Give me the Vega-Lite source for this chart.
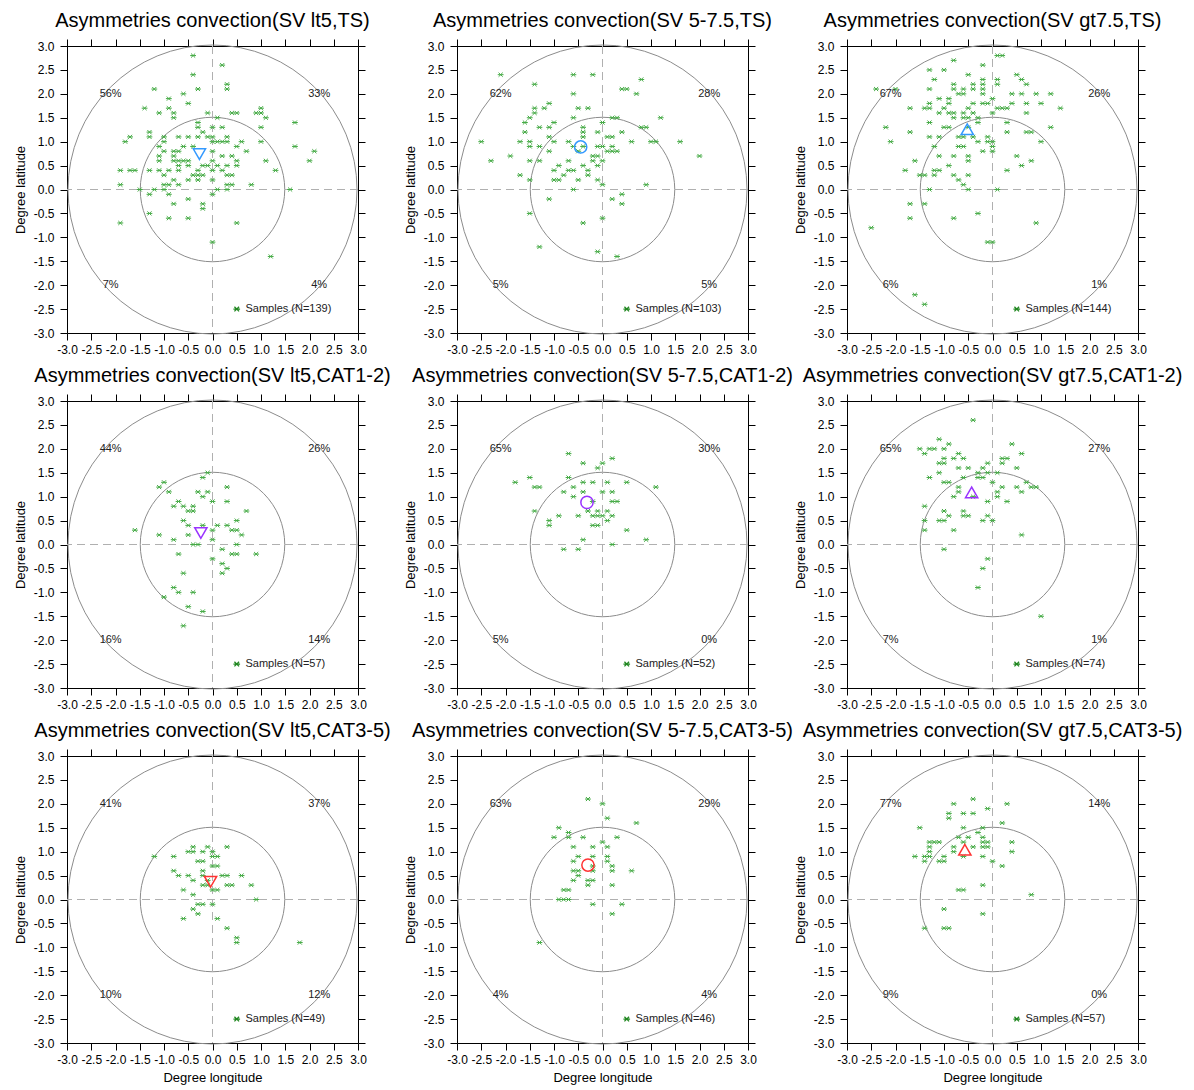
{
"$schema": "https://vega.github.io/schema/vega-lite/v6.json",
"background": "white",
"padding": {"left": 13, "top": 10, "right": 5, "bottom": 5},
"columns": 3,
"bounds": "flush",
"spacing": {"row": 68, "column": 99},
"datasets": {
"circ": [{"r": 3}, {"r": 1.5}],
"zero": [{"v": 0}],
"info": [
{"p":1,"mx":-0.27,"my":0.74,"leg":"Samples (N=139)"},
{"p":2,"mx":-0.45,"my":0.89,"leg":"Samples (N=103)"},
{"p":3,"mx":-0.52,"my":1.26,"leg":"Samples (N=144)"},
{"p":4,"mx":-0.24,"my":0.24,"leg":"Samples (N=57)"},
{"p":5,"mx":-0.32,"my":0.88,"leg":"Samples (N=52)"},
{"p":6,"mx":-0.43,"my":1.09,"leg":"Samples (N=74)"},
{"p":7,"mx":-0.04,"my":0.37,"leg":"Samples (N=49)"},
{"p":8,"mx":-0.3,"my":0.72,"leg":"Samples (N=46)"},
{"p":9,"mx":-0.57,"my":1.04,"leg":"Samples (N=57)"}
],
"pct": [
{"p":1,"x":-2.1,"y":2,"t":"56%"},{"p":1,"x":2.2,"y":2,"t":"33%"},{"p":1,"x":-2.1,"y":-2,"t":"7%"},{"p":1,"x":2.2,"y":-2,"t":"4%"},
{"p":2,"x":-2.1,"y":2,"t":"62%"},{"p":2,"x":2.2,"y":2,"t":"28%"},{"p":2,"x":-2.1,"y":-2,"t":"5%"},{"p":2,"x":2.2,"y":-2,"t":"5%"},
{"p":3,"x":-2.1,"y":2,"t":"67%"},{"p":3,"x":2.2,"y":2,"t":"26%"},{"p":3,"x":-2.1,"y":-2,"t":"6%"},{"p":3,"x":2.2,"y":-2,"t":"1%"},
{"p":4,"x":-2.1,"y":2,"t":"44%"},{"p":4,"x":2.2,"y":2,"t":"26%"},{"p":4,"x":-2.1,"y":-2,"t":"16%"},{"p":4,"x":2.2,"y":-2,"t":"14%"},
{"p":5,"x":-2.1,"y":2,"t":"65%"},{"p":5,"x":2.2,"y":2,"t":"30%"},{"p":5,"x":-2.1,"y":-2,"t":"5%"},{"p":5,"x":2.2,"y":-2,"t":"0%"},
{"p":6,"x":-2.1,"y":2,"t":"65%"},{"p":6,"x":2.2,"y":2,"t":"27%"},{"p":6,"x":-2.1,"y":-2,"t":"7%"},{"p":6,"x":2.2,"y":-2,"t":"1%"},
{"p":7,"x":-2.1,"y":2,"t":"41%"},{"p":7,"x":2.2,"y":2,"t":"37%"},{"p":7,"x":-2.1,"y":-2,"t":"10%"},{"p":7,"x":2.2,"y":-2,"t":"12%"},
{"p":8,"x":-2.1,"y":2,"t":"63%"},{"p":8,"x":2.2,"y":2,"t":"29%"},{"p":8,"x":-2.1,"y":-2,"t":"4%"},{"p":8,"x":2.2,"y":-2,"t":"4%"},
{"p":9,"x":-2.1,"y":2,"t":"77%"},{"p":9,"x":2.2,"y":2,"t":"14%"},{"p":9,"x":-2.1,"y":-2,"t":"9%"},{"p":9,"x":2.2,"y":-2,"t":"0%"}
],
"s1": [
{"x":-0.4,"y":2.8},{"x":0.2,"y":2.6},{"x":-0.4,"y":2.4},{"x":0.3,"y":2.2},{"x":0.3,"y":2.1},{"x":-1.2,"y":2.1},{"x":-0.3,"y":2.1},{"x":-0.6,"y":2.0},{"x":-0.9,"y":1.9},{"x":-0.5,"y":1.8},{"x":-1.4,"y":1.7},{"x":-0.9,"y":1.7},{"x":-1.1,"y":1.6},{"x":-0.8,"y":1.6},{"x":-0.8,"y":1.5},{"x":-0.1,"y":1.6},{"x":0.4,"y":1.6},{"x":0.5,"y":1.6},{"x":0.9,"y":1.6},{"x":1.0,"y":1.7},{"x":1.0,"y":1.6},{"x":1.1,"y":1.5},{"x":0.1,"y":1.5},
{"x":-0.3,"y":1.4},{"x":1.7,"y":1.4},{"x":1.0,"y":1.3},{"x":-0.3,"y":1.3},{"x":0,"y":1.3},{"x":0.2,"y":1.3},{"x":-1.3,"y":1.2},{"x":-0.2,"y":1.2},
{"x":-1.7,"y":1.1},{"x":-1.3,"y":1.1},{"x":-1.0,"y":1.1},{"x":-0.7,"y":1.1},{"x":-0.5,"y":1.1},{"x":-0.3,"y":1.1},{"x":-0.1,"y":1.1},{"x":0,"y":1.1},{"x":0.3,"y":1.1},
{"x":-1.8,"y":1.0},{"x":-1.0,"y":1.0},{"x":0,"y":1.0},{"x":0.1,"y":1.0},{"x":0.2,"y":1.0},{"x":0.3,"y":1.0},{"x":0.6,"y":1.0},{"x":1.0,"y":1.0},
{"x":-1.1,"y":0.9},{"x":-0.6,"y":0.9},{"x":-0.4,"y":0.9},{"x":0.5,"y":0.9},{"x":1.7,"y":0.9},
{"x":-1.0,"y":0.8},{"x":-0.8,"y":0.8},{"x":-0.7,"y":0.8},{"x":0,"y":0.8},{"x":0.7,"y":0.8},{"x":2.1,"y":0.8},
{"x":-1.1,"y":0.7},{"x":-0.8,"y":0.7},{"x":0.2,"y":0.7},{"x":0.4,"y":0.7},
{"x":-1.1,"y":0.6},{"x":-0.8,"y":0.6},{"x":-0.7,"y":0.6},{"x":-0.6,"y":0.6},{"x":-0.5,"y":0.6},{"x":0,"y":0.6},{"x":0.5,"y":0.6},{"x":1.1,"y":0.6},{"x":2.0,"y":0.6},
{"x":-0.7,"y":0.5},{"x":-0.5,"y":0.5},{"x":-0.2,"y":0.5},{"x":-0.1,"y":0.5},{"x":0.1,"y":0.5},{"x":0.3,"y":0.5},{"x":0.5,"y":0.5},
{"x":-1.9,"y":0.4},{"x":-1.7,"y":0.4},{"x":-1.6,"y":0.4},{"x":-1.3,"y":0.4},{"x":-1.1,"y":0.4},{"x":-0.9,"y":0.4},{"x":-0.7,"y":0.4},{"x":-0.3,"y":0.4},{"x":0,"y":0.4},{"x":0.2,"y":0.4},{"x":1.3,"y":0.4},
{"x":-1.0,"y":0.3},{"x":-0.4,"y":0.3},{"x":-0.3,"y":0.3},{"x":-0.2,"y":0.3},{"x":0.3,"y":0.3},{"x":0.4,"y":0.3},
{"x":-0.8,"y":0.2},{"x":-0.5,"y":0.2},{"x":-0.3,"y":0.2},{"x":0,"y":0.2},
{"x":-1.9,"y":0.1},{"x":-1.0,"y":0.1},{"x":-0.9,"y":0.1},{"x":-0.7,"y":0.1},{"x":0.3,"y":0.1},{"x":0.4,"y":0.1},{"x":0.8,"y":0.1},
{"x":-1.5,"y":0},{"x":-1.2,"y":0},{"x":-1.0,"y":0},{"x":0.1,"y":0},{"x":0.3,"y":0},{"x":1.6,"y":0},
{"x":-1.3,"y":-0.1},{"x":-0.9,"y":-0.1},{"x":0,"y":-0.1},
{"x":-0.5,"y":-0.2},{"x":-0.8,"y":-0.3},{"x":-0.2,"y":-0.3},{"x":-0.2,"y":-0.4},{"x":-1.3,"y":-0.5},{"x":-0.9,"y":-0.6},{"x":-0.5,"y":-0.6},{"x":-1.9,"y":-0.7},{"x":0.5,"y":-0.7},{"x":0,"y":-1.1},{"x":1.2,"y":-1.4}
],
"s2": [
{"x":-2.1,"y":2.4},{"x":-0.6,"y":2.4},{"x":-0.2,"y":2.4},{"x":0.8,"y":2.3},{"x":-1.4,"y":2.2},{"x":0.4,"y":2.1},{"x":0.5,"y":2.1},{"x":-0.6,"y":2.0},{"x":0.7,"y":2.0},{"x":-1.1,"y":1.8},{"x":-1.4,"y":1.7},{"x":-1.4,"y":1.6},{"x":-1.2,"y":1.7},{"x":-0.5,"y":1.7},{"x":-0.3,"y":1.7},{"x":-1.5,"y":1.5},{"x":-0.6,"y":1.5},{"x":0.2,"y":1.5},{"x":0.3,"y":1.5},{"x":1.2,"y":1.5},{"x":-1.6,"y":1.4},{"x":-1.0,"y":1.4},{"x":0,"y":1.4},{"x":-1.3,"y":1.3},{"x":-1.1,"y":1.3},{"x":-0.4,"y":1.3},{"x":0.8,"y":1.3},{"x":0.9,"y":1.3},{"x":-1.6,"y":1.2},{"x":-0.4,"y":1.2},{"x":-0.1,"y":1.2},{"x":0.4,"y":1.2},{"x":-1.1,"y":1.1},{"x":-0.4,"y":1.1},{"x":0.1,"y":1.1},{"x":0.2,"y":1.1},
{"x":-2.5,"y":1.0},{"x":-1.7,"y":1.0},{"x":-1.5,"y":1.0},{"x":-1.0,"y":1.0},{"x":-0.7,"y":1.0},{"x":0.6,"y":1.0},{"x":1.0,"y":1.0},{"x":1.1,"y":1.0},{"x":1.6,"y":1.0},{"x":-1.5,"y":0.9},{"x":-1.3,"y":0.9},{"x":-0.6,"y":0.9},{"x":-0.4,"y":0.9},{"x":-0.1,"y":0.9},{"x":0,"y":0.9},{"x":0.2,"y":0.9},{"x":-1.1,"y":0.8},{"x":-0.5,"y":0.8},{"x":0.1,"y":0.8},{"x":0.2,"y":0.8},{"x":0.3,"y":0.8},{"x":-1.9,"y":0.7},{"x":-0.2,"y":0.7},{"x":-0.1,"y":0.7},{"x":2.0,"y":0.7},
{"x":-2.3,"y":0.6},{"x":-1.5,"y":0.6},{"x":-1.3,"y":0.6},{"x":-0.7,"y":0.6},{"x":-0.2,"y":0.6},{"x":0,"y":0.6},{"x":-0.9,"y":0.5},{"x":-0.4,"y":0.5},{"x":-0.1,"y":0.5},{"x":-1.0,"y":0.4},{"x":-0.7,"y":0.4},{"x":-0.6,"y":0.4},{"x":-0.3,"y":0.4},{"x":-1.7,"y":0.3},{"x":-0.8,"y":0.3},{"x":-0.3,"y":0.3},{"x":-1.5,"y":0.2},{"x":-1.0,"y":0.2},{"x":-0.9,"y":0.2},{"x":-0.5,"y":0.2},{"x":-0.1,"y":0.2},{"x":0,"y":0.1},{"x":0.9,"y":0.1},{"x":-0.6,"y":0},
{"x":0.4,"y":-0.1},{"x":-1.1,"y":-0.2},{"x":0.2,"y":-0.2},{"x":0.4,"y":-0.3},{"x":-1.5,"y":-0.5},{"x":0,"y":-0.6},{"x":-0.4,"y":-0.7},{"x":-1.3,"y":-1.2},{"x":-0.1,"y":-1.3},{"x":0.3,"y":-1.4}
],
"s3": [
{"x":0.1,"y":2.8},{"x":0.2,"y":2.8},{"x":-0.8,"y":2.7},{"x":-0.2,"y":2.6},{"x":-1.3,"y":2.5},{"x":-1.0,"y":2.5},{"x":-0.5,"y":2.4},{"x":0.5,"y":2.4},{"x":-1.2,"y":2.3},{"x":-0.2,"y":2.3},{"x":0.1,"y":2.3},{"x":0.6,"y":2.3},
{"x":-0.8,"y":2.2},{"x":-0.4,"y":2.2},{"x":-0.2,"y":2.2},{"x":0.1,"y":2.2},{"x":0.7,"y":2.2},
{"x":-2.4,"y":2.1},{"x":-2.0,"y":2.1},{"x":-1.3,"y":2.1},{"x":-0.8,"y":2.1},{"x":-0.6,"y":2.1},{"x":-0.4,"y":2.1},{"x":-0.2,"y":2.1},
{"x":-0.7,"y":2.0},{"x":-0.6,"y":2.0},{"x":-0.2,"y":2.0},{"x":0.4,"y":2.0},{"x":0.6,"y":2.0},{"x":0.9,"y":2.0},{"x":1.2,"y":2.0},
{"x":-1.1,"y":1.9},{"x":-0.9,"y":1.9},{"x":0,"y":1.9},
{"x":-1.3,"y":1.8},{"x":-0.9,"y":1.8},{"x":-0.4,"y":1.8},{"x":-0.2,"y":1.8},{"x":-0.1,"y":1.8},{"x":0.4,"y":1.8},{"x":0.7,"y":1.8},{"x":1.0,"y":1.8},
{"x":-1.7,"y":1.7},{"x":-1.4,"y":1.7},{"x":-1.3,"y":1.7},{"x":-1.0,"y":1.7},{"x":-0.5,"y":1.7},{"x":0.1,"y":1.7},{"x":0.2,"y":1.7},{"x":0.3,"y":1.7},{"x":1.4,"y":1.7},
{"x":-1.1,"y":1.6},{"x":-0.9,"y":1.6},{"x":-0.8,"y":1.6},{"x":-0.6,"y":1.6},{"x":-0.4,"y":1.6},{"x":0,"y":1.6},{"x":0.7,"y":1.6},
{"x":-0.8,"y":1.5},{"x":-0.6,"y":1.5},{"x":-0.5,"y":1.5},{"x":-0.3,"y":1.5},
{"x":-1.3,"y":1.4},{"x":-0.3,"y":1.4},{"x":0.3,"y":1.4},
{"x":-2.2,"y":1.3},{"x":-1.0,"y":1.3},{"x":-0.9,"y":1.3},{"x":-0.5,"y":1.3},{"x":1.2,"y":1.3},
{"x":-1.7,"y":1.2},{"x":0.3,"y":1.2},{"x":0.7,"y":1.2},{"x":0.8,"y":1.2},
{"x":-1.3,"y":1.1},{"x":-1.1,"y":1.1},{"x":-0.7,"y":1.1},{"x":-0.6,"y":1.1},{"x":-0.4,"y":1.1},{"x":-0.1,"y":1.1},
{"x":-2.1,"y":1.0},{"x":-0.3,"y":1.0},{"x":-0.1,"y":1.0},{"x":0,"y":1.0},{"x":1.0,"y":1.0},
{"x":-1.2,"y":0.9},{"x":-0.7,"y":0.9},{"x":-0.6,"y":0.9},{"x":0,"y":0.9},
{"x":-0.2,"y":0.8},{"x":0,"y":0.8},
{"x":-1.1,"y":0.7},{"x":-0.8,"y":0.7},{"x":-0.5,"y":0.7},{"x":0.5,"y":0.7},
{"x":-1.6,"y":0.6},{"x":-0.5,"y":0.6},{"x":0.8,"y":0.6},
{"x":-0.9,"y":0.5},{"x":0.6,"y":0.5},
{"x":-1.8,"y":0.4},{"x":-1.2,"y":0.4},{"x":-1.1,"y":0.4},{"x":0.3,"y":0.4},
{"x":-1.5,"y":0.3},{"x":-1.4,"y":0.3},{"x":-1.2,"y":0.3},{"x":-0.8,"y":0.3},{"x":-0.5,"y":0.3},
{"x":-0.7,"y":0.2},{"x":-0.6,"y":0.1},
{"x":-1.3,"y":0},{"x":-0.5,"y":0},{"x":0.1,"y":0},
{"x":-1.7,"y":-0.3},{"x":-1.4,"y":-0.3},{"x":-0.3,"y":-0.5},{"x":-1.7,"y":-0.6},{"x":-0.8,"y":-0.6},{"x":0.9,"y":-0.7},{"x":-2.5,"y":-0.8},{"x":-0.1,"y":-1.1},{"x":0,"y":-1.1},{"x":-1.6,"y":-2.2},{"x":-1.4,"y":-2.4}
],
"s4": [
{"x":-0.1,"y":1.5},{"x":-0.2,"y":1.4},{"x":-1.0,"y":1.3},{"x":-1.1,"y":1.2},{"x":0.3,"y":1.2},{"x":-0.9,"y":1.1},{"x":-0.3,"y":1.1},{"x":-0.1,"y":1.1},{"x":-0.2,"y":1.0},
{"x":-0.7,"y":0.9},{"x":0,"y":0.9},{"x":0.3,"y":0.9},{"x":-0.8,"y":0.8},{"x":-0.6,"y":0.8},{"x":-0.4,"y":0.8},{"x":-0.5,"y":0.7},{"x":-0.4,"y":0.7},{"x":0.7,"y":0.7},
{"x":-0.6,"y":0.5},{"x":0.5,"y":0.5},{"x":-0.5,"y":0.4},{"x":-0.2,"y":0.4},{"x":0.1,"y":0.4},{"x":0.3,"y":0.4},
{"x":-1.6,"y":0.3},{"x":0,"y":0.3},{"x":0.4,"y":0.3},{"x":0.5,"y":0.3},{"x":-1.1,"y":0.2},{"x":-0.5,"y":0.2},{"x":0.6,"y":0.2},{"x":-0.8,"y":0.1},{"x":0,"y":0.1},
{"x":-0.4,"y":0},{"x":-0.3,"y":0},{"x":0.5,"y":0},{"x":0.2,"y":-0.1},{"x":-0.7,"y":-0.2},{"x":0.4,"y":-0.2},{"x":0.5,"y":-0.2},{"x":0.9,"y":-0.2},
{"x":0,"y":-0.3},{"x":0.2,"y":-0.4},{"x":0.3,"y":-0.5},{"x":-0.6,"y":-0.6},{"x":0.2,"y":-0.6},{"x":-0.8,"y":-0.9},{"x":-0.7,"y":-1.0},{"x":-0.4,"y":-1.0},{"x":-1.0,"y":-1.1},{"x":-0.5,"y":-1.3},{"x":-0.2,"y":-1.4},{"x":-0.6,"y":-1.7}
],
"s5": [
{"x":-0.7,"y":1.9},{"x":0.2,"y":1.8},{"x":-0.4,"y":1.7},{"x":0,"y":1.7},{"x":-0.1,"y":1.6},{"x":-1.5,"y":1.4},{"x":-0.7,"y":1.4},
{"x":-1.8,"y":1.3},{"x":-0.4,"y":1.3},{"x":-0.2,"y":1.3},{"x":0.1,"y":1.3},{"x":0.5,"y":1.3},{"x":-1.4,"y":1.2},{"x":-1.3,"y":1.2},{"x":-0.6,"y":1.2},{"x":1.1,"y":1.2},
{"x":-0.8,"y":1.1},{"x":-0.4,"y":1.1},{"x":0,"y":1.1},{"x":0.2,"y":1.1},{"x":-0.6,"y":1.0},{"x":-0.2,"y":0.9},{"x":0.2,"y":0.9},{"x":0.3,"y":0.9},
{"x":-1.4,"y":0.7},{"x":-0.3,"y":0.7},{"x":-0.1,"y":0.7},{"x":0.1,"y":0.7},{"x":-0.9,"y":0.6},{"x":-0.5,"y":0.6},{"x":-0.2,"y":0.6},{"x":-0.1,"y":0.6},{"x":0,"y":0.6},{"x":0.2,"y":0.6},
{"x":-1.1,"y":0.5},{"x":0.1,"y":0.5},{"x":-1.1,"y":0.4},{"x":-0.2,"y":0.4},{"x":-0.1,"y":0.4},{"x":0.5,"y":0.3},{"x":-0.4,"y":0.1},{"x":0.9,"y":0.1},{"x":0.2,"y":0},{"x":-0.8,"y":-0.1},{"x":-0.5,"y":-0.1}
],
"s6": [
{"x":-0.4,"y":2.6},{"x":-1.1,"y":2.2},{"x":0.4,"y":2.1},{"x":-0.9,"y":2.1},{"x":-1.5,"y":2.0},{"x":-1.3,"y":2.0},{"x":-1.2,"y":2.0},{"x":-1.0,"y":2.0},{"x":-1.4,"y":1.9},{"x":-0.7,"y":1.9},{"x":0.6,"y":1.9},
{"x":-1.0,"y":1.8},{"x":-0.8,"y":1.8},{"x":-0.6,"y":1.8},{"x":0.2,"y":1.8},{"x":0.3,"y":1.8},{"x":-1.1,"y":1.7},{"x":-1.0,"y":1.7},{"x":-0.1,"y":1.7},{"x":0.2,"y":1.7},
{"x":-0.7,"y":1.6},{"x":-0.5,"y":1.6},{"x":-0.2,"y":1.6},{"x":0.5,"y":1.6},{"x":-1.1,"y":1.5},{"x":-0.3,"y":1.5},{"x":-0.1,"y":1.5},{"x":0.1,"y":1.5},
{"x":-1.3,"y":1.4},{"x":-0.6,"y":1.4},{"x":-0.3,"y":1.4},{"x":-0.2,"y":1.4},{"x":-1.0,"y":1.3},{"x":-0.9,"y":1.3},{"x":0,"y":1.3},{"x":0.7,"y":1.3},
{"x":-0.7,"y":1.2},{"x":0.2,"y":1.2},{"x":0.5,"y":1.2},{"x":0.8,"y":1.2},{"x":0.9,"y":1.2},{"x":-0.7,"y":1.1},{"x":0.1,"y":1.1},{"x":0.6,"y":1.1},
{"x":-0.8,"y":1.0},{"x":-0.4,"y":1.0},{"x":0.1,"y":1.0},{"x":-0.1,"y":0.9},{"x":0.3,"y":0.9},{"x":-1.4,"y":0.8},{"x":-1.0,"y":0.7},{"x":-0.6,"y":0.7},
{"x":-0.9,"y":0.6},{"x":-0.6,"y":0.6},{"x":-0.5,"y":0.6},{"x":-0.1,"y":0.6},{"x":-1.4,"y":0.5},{"x":-1.1,"y":0.5},{"x":-1.0,"y":0.5},{"x":-0.2,"y":0.5},{"x":0,"y":0.5},
{"x":-1.4,"y":0.3},{"x":-0.8,"y":0.3},{"x":0.6,"y":0.2},{"x":-1.0,"y":-0.1},{"x":-0.1,"y":-0.3},{"x":-0.2,"y":-0.5},{"x":-0.3,"y":-0.9},{"x":1.0,"y":-1.5}
],
"s7": [
{"x":-0.4,"y":1.1},{"x":-0.1,"y":1.1},{"x":0.3,"y":1.1},{"x":-0.5,"y":1.0},{"x":-0.4,"y":1.0},{"x":-0.2,"y":1.0},{"x":0,"y":1.0},{"x":-1.2,"y":0.9},{"x":-0.8,"y":0.9},{"x":0,"y":0.9},{"x":0.1,"y":0.9},
{"x":-0.3,"y":0.8},{"x":-0.2,"y":0.8},{"x":0,"y":0.7},{"x":0.1,"y":0.7},{"x":-0.8,"y":0.6},{"x":-0.2,"y":0.6},
{"x":-0.7,"y":0.5},{"x":-0.5,"y":0.5},{"x":-0.2,"y":0.5},{"x":0.2,"y":0.5},{"x":0.3,"y":0.5},{"x":0.6,"y":0.5},{"x":-0.4,"y":0.4},{"x":-0.1,"y":0.4},
{"x":-0.2,"y":0.3},{"x":-0.1,"y":0.3},{"x":0.3,"y":0.3},{"x":0.4,"y":0.3},{"x":0.8,"y":0.3},{"x":-0.6,"y":0.2},{"x":0,"y":0.2},{"x":0.1,"y":0.2},{"x":-0.4,"y":0.1},{"x":0.9,"y":0},
{"x":-0.3,"y":-0.1},{"x":-0.2,"y":-0.1},{"x":0,"y":-0.1},{"x":-0.4,"y":-0.2},{"x":-0.3,"y":-0.3},{"x":-0.6,"y":-0.4},{"x":0.1,"y":-0.4},{"x":0.3,"y":-0.6},{"x":0.5,"y":-0.8},{"x":0.5,"y":-0.9},{"x":1.8,"y":-0.9}
],
"s8": [
{"x":-0.3,"y":2.1},{"x":0,"y":2.0},{"x":0.1,"y":1.7},{"x":0.7,"y":1.6},{"x":-0.9,"y":1.5},{"x":-0.7,"y":1.4},{"x":-1.0,"y":1.3},{"x":-0.7,"y":1.3},{"x":-0.4,"y":1.3},{"x":0.3,"y":1.3},{"x":0,"y":1.2},
{"x":-0.6,"y":1.1},{"x":-0.2,"y":1.1},{"x":0.1,"y":1.1},{"x":-0.5,"y":0.9},{"x":-0.2,"y":0.9},{"x":0.1,"y":0.9},{"x":-0.6,"y":0.8},{"x":0.1,"y":0.8},{"x":-0.2,"y":0.7},{"x":0.2,"y":0.7},
{"x":-0.6,"y":0.6},{"x":-0.5,"y":0.6},{"x":-0.2,"y":0.6},{"x":0.2,"y":0.6},{"x":0.6,"y":0.6},{"x":-0.5,"y":0.5},{"x":-0.6,"y":0.4},{"x":-0.3,"y":0.4},{"x":-0.2,"y":0.4},{"x":-0.3,"y":0.3},{"x":0.2,"y":0.3},
{"x":-0.8,"y":0.2},{"x":-0.7,"y":0.2},{"x":-0.9,"y":0},{"x":-0.8,"y":0},{"x":-0.7,"y":0},{"x":-0.2,"y":-0.1},{"x":0.4,"y":-0.1},{"x":0.2,"y":-0.3},{"x":-1.3,"y":-0.9}
],
"s9": [
{"x":-0.4,"y":2.1},{"x":-0.8,"y":2.0},{"x":0.3,"y":2.0},{"x":-0.1,"y":1.9},{"x":-0.9,"y":1.8},{"x":-0.6,"y":1.8},{"x":-0.4,"y":1.8},{"x":-0.9,"y":1.7},{"x":0.2,"y":1.6},{"x":-1.5,"y":1.5},{"x":-0.6,"y":1.5},{"x":-0.2,"y":1.5},{"x":-0.3,"y":1.4},
{"x":-0.7,"y":1.3},{"x":-0.5,"y":1.3},{"x":-0.2,"y":1.3},{"x":-1.3,"y":1.2},{"x":-1.2,"y":1.2},{"x":-1.1,"y":1.2},{"x":-0.6,"y":1.2},{"x":-0.2,"y":1.2},{"x":-0.1,"y":1.2},{"x":0.4,"y":1.2},
{"x":-1.3,"y":1.1},{"x":-0.8,"y":1.1},{"x":-0.4,"y":1.1},{"x":-0.2,"y":1.1},{"x":-0.1,"y":1.1},{"x":-1.3,"y":1.0},{"x":-0.8,"y":1.0},{"x":0.4,"y":1.0},
{"x":-1.6,"y":0.9},{"x":-1.4,"y":0.9},{"x":-1.3,"y":0.9},{"x":-1.0,"y":0.9},{"x":-0.6,"y":0.9},{"x":-0.2,"y":0.9},{"x":-1.4,"y":0.8},{"x":-1.1,"y":0.8},{"x":-1.0,"y":0.8},{"x":0,"y":0.8},{"x":0.2,"y":0.7},
{"x":-0.2,"y":0.3},{"x":-0.7,"y":0.2},{"x":-0.6,"y":0.2},{"x":0.8,"y":0.1},{"x":-1.0,"y":-0.2},{"x":-0.2,"y":-0.3},{"x":-1.4,"y":-0.6},{"x":-1.0,"y":-0.6},{"x":-0.9,"y":-0.6}
]
},
"concat": [
{"title": "Asymmetries convection(SV lt5,TS)", "width": 291, "height": 287, "resolve": {"axis": {"x": "independent", "y": "independent"}},
 "layer": [
  {"data": {"name": "circ"}, "mark": {"type": "point", "filled": false, "color": "#8c8c8c", "strokeWidth": 1, "opacity": 1},
   "encoding": {"x": {"datum": 0, "type": "quantitative", "scale": {"domain": [-3, 3], "nice": false, "zero": false}, "axis": {"title": null}},
    "y": {"datum": 0, "type": "quantitative", "scale": {"domain": [-3, 3], "nice": false, "zero": false}, "axis": {"title": "Degree latitude"}},
    "size": {"field": "r", "type": "quantitative", "scale": {"type": "pow", "exponent": 2, "domain": [0, 3], "range": [0, 83521]}, "legend": null}}},
  {"data": {"name": "zero"}, "mark": {"type": "rule", "color": "#b0b0b0", "strokeDash": [8, 5], "strokeWidth": 1}, "encoding": {"x": {"field": "v", "type": "quantitative", "axis": {"orient": "top", "labels": false, "title": null}}}},
  {"data": {"name": "zero"}, "mark": {"type": "rule", "color": "#b0b0b0", "strokeDash": [8, 5], "strokeWidth": 1}, "encoding": {"y": {"field": "v", "type": "quantitative", "axis": {"orient": "right", "labels": false, "title": null}}}},
  {"data": {"name": "s1"}, "mark": {"type": "point", "shape": "M-1,0L1,0M-0.7,-0.7L0.7,0.7M-0.7,0.7L0.7,-0.7", "size": 34, "filled": false, "color": "#44aa44", "strokeWidth": 1, "opacity": 1},
   "encoding": {"x": {"field": "x", "type": "quantitative", "axis": null}, "y": {"field": "y", "type": "quantitative", "axis": null}}},
  {"data": {"name": "info"}, "transform": [{"filter": "datum.p == 1"}], "mark": {"type": "point", "shape": "triangle-down", "size": 150, "filled": false, "color": "#3399ff", "strokeWidth": 1.5, "opacity": 1},
   "encoding": {"x": {"field": "mx", "type": "quantitative", "axis": null}, "y": {"field": "my", "type": "quantitative", "axis": null}}},
  {"data": {"name": "pct"}, "transform": [{"filter": "datum.p == 1"}], "mark": {"type": "text", "fontSize": 11, "color": "#222222"},
   "encoding": {"x": {"field": "x", "type": "quantitative", "axis": null}, "y": {"field": "y", "type": "quantitative", "axis": null}, "text": {"field": "t"}}},
  {"data": {"name": "info"}, "transform": [{"filter": "datum.p == 1"}], "mark": {"type": "point", "shape": "M-1,0L1,0M-0.7,-0.7L0.7,0.7M-0.7,0.7L0.7,-0.7", "size": 44, "filled": false, "color": "#228822", "strokeWidth": 1.3, "opacity": 1},
   "encoding": {"x": {"datum": 0.5, "type": "quantitative", "axis": null}, "y": {"datum": -2.5, "type": "quantitative", "axis": null}}},
  {"data": {"name": "info"}, "transform": [{"filter": "datum.p == 1"}], "mark": {"type": "text", "align": "left", "fontSize": 11, "color": "#222222"},
   "encoding": {"x": {"datum": 0.68, "type": "quantitative", "axis": null}, "y": {"datum": -2.5, "type": "quantitative", "axis": null}, "text": {"field": "leg"}}}
 ]},
{"title": "Asymmetries convection(SV 5-7.5,TS)", "width": 291, "height": 287, "resolve": {"axis": {"x": "independent", "y": "independent"}},
 "layer": [
  {"data": {"name": "circ"}, "mark": {"type": "point", "filled": false, "color": "#8c8c8c", "strokeWidth": 1, "opacity": 1},
   "encoding": {"x": {"datum": 0, "type": "quantitative", "scale": {"domain": [-3, 3], "nice": false, "zero": false}, "axis": {"title": null}},
    "y": {"datum": 0, "type": "quantitative", "scale": {"domain": [-3, 3], "nice": false, "zero": false}, "axis": {"title": "Degree latitude"}},
    "size": {"field": "r", "type": "quantitative", "scale": {"type": "pow", "exponent": 2, "domain": [0, 3], "range": [0, 83521]}, "legend": null}}},
  {"data": {"name": "zero"}, "mark": {"type": "rule", "color": "#b0b0b0", "strokeDash": [8, 5], "strokeWidth": 1}, "encoding": {"x": {"field": "v", "type": "quantitative", "axis": {"orient": "top", "labels": false, "title": null}}}},
  {"data": {"name": "zero"}, "mark": {"type": "rule", "color": "#b0b0b0", "strokeDash": [8, 5], "strokeWidth": 1}, "encoding": {"y": {"field": "v", "type": "quantitative", "axis": {"orient": "right", "labels": false, "title": null}}}},
  {"data": {"name": "s2"}, "mark": {"type": "point", "shape": "M-1,0L1,0M-0.7,-0.7L0.7,0.7M-0.7,0.7L0.7,-0.7", "size": 34, "filled": false, "color": "#44aa44", "strokeWidth": 1, "opacity": 1},
   "encoding": {"x": {"field": "x", "type": "quantitative", "axis": null}, "y": {"field": "y", "type": "quantitative", "axis": null}}},
  {"data": {"name": "info"}, "transform": [{"filter": "datum.p == 2"}], "mark": {"type": "point", "shape": "circle", "size": 150, "filled": false, "color": "#3399ff", "strokeWidth": 1.5, "opacity": 1},
   "encoding": {"x": {"field": "mx", "type": "quantitative", "axis": null}, "y": {"field": "my", "type": "quantitative", "axis": null}}},
  {"data": {"name": "pct"}, "transform": [{"filter": "datum.p == 2"}], "mark": {"type": "text", "fontSize": 11, "color": "#222222"},
   "encoding": {"x": {"field": "x", "type": "quantitative", "axis": null}, "y": {"field": "y", "type": "quantitative", "axis": null}, "text": {"field": "t"}}},
  {"data": {"name": "info"}, "transform": [{"filter": "datum.p == 2"}], "mark": {"type": "point", "shape": "M-1,0L1,0M-0.7,-0.7L0.7,0.7M-0.7,0.7L0.7,-0.7", "size": 44, "filled": false, "color": "#228822", "strokeWidth": 1.3, "opacity": 1},
   "encoding": {"x": {"datum": 0.5, "type": "quantitative", "axis": null}, "y": {"datum": -2.5, "type": "quantitative", "axis": null}}},
  {"data": {"name": "info"}, "transform": [{"filter": "datum.p == 2"}], "mark": {"type": "text", "align": "left", "fontSize": 11, "color": "#222222"},
   "encoding": {"x": {"datum": 0.68, "type": "quantitative", "axis": null}, "y": {"datum": -2.5, "type": "quantitative", "axis": null}, "text": {"field": "leg"}}}
 ]},
{"title": "Asymmetries convection(SV gt7.5,TS)", "width": 291, "height": 287, "resolve": {"axis": {"x": "independent", "y": "independent"}},
 "layer": [
  {"data": {"name": "circ"}, "mark": {"type": "point", "filled": false, "color": "#8c8c8c", "strokeWidth": 1, "opacity": 1},
   "encoding": {"x": {"datum": 0, "type": "quantitative", "scale": {"domain": [-3, 3], "nice": false, "zero": false}, "axis": {"title": null}},
    "y": {"datum": 0, "type": "quantitative", "scale": {"domain": [-3, 3], "nice": false, "zero": false}, "axis": {"title": "Degree latitude"}},
    "size": {"field": "r", "type": "quantitative", "scale": {"type": "pow", "exponent": 2, "domain": [0, 3], "range": [0, 83521]}, "legend": null}}},
  {"data": {"name": "zero"}, "mark": {"type": "rule", "color": "#b0b0b0", "strokeDash": [8, 5], "strokeWidth": 1}, "encoding": {"x": {"field": "v", "type": "quantitative", "axis": {"orient": "top", "labels": false, "title": null}}}},
  {"data": {"name": "zero"}, "mark": {"type": "rule", "color": "#b0b0b0", "strokeDash": [8, 5], "strokeWidth": 1}, "encoding": {"y": {"field": "v", "type": "quantitative", "axis": {"orient": "right", "labels": false, "title": null}}}},
  {"data": {"name": "s3"}, "mark": {"type": "point", "shape": "M-1,0L1,0M-0.7,-0.7L0.7,0.7M-0.7,0.7L0.7,-0.7", "size": 34, "filled": false, "color": "#44aa44", "strokeWidth": 1, "opacity": 1},
   "encoding": {"x": {"field": "x", "type": "quantitative", "axis": null}, "y": {"field": "y", "type": "quantitative", "axis": null}}},
  {"data": {"name": "info"}, "transform": [{"filter": "datum.p == 3"}], "mark": {"type": "point", "shape": "triangle-up", "size": 150, "filled": false, "color": "#3399ff", "strokeWidth": 1.5, "opacity": 1},
   "encoding": {"x": {"field": "mx", "type": "quantitative", "axis": null}, "y": {"field": "my", "type": "quantitative", "axis": null}}},
  {"data": {"name": "pct"}, "transform": [{"filter": "datum.p == 3"}], "mark": {"type": "text", "fontSize": 11, "color": "#222222"},
   "encoding": {"x": {"field": "x", "type": "quantitative", "axis": null}, "y": {"field": "y", "type": "quantitative", "axis": null}, "text": {"field": "t"}}},
  {"data": {"name": "info"}, "transform": [{"filter": "datum.p == 3"}], "mark": {"type": "point", "shape": "M-1,0L1,0M-0.7,-0.7L0.7,0.7M-0.7,0.7L0.7,-0.7", "size": 44, "filled": false, "color": "#228822", "strokeWidth": 1.3, "opacity": 1},
   "encoding": {"x": {"datum": 0.5, "type": "quantitative", "axis": null}, "y": {"datum": -2.5, "type": "quantitative", "axis": null}}},
  {"data": {"name": "info"}, "transform": [{"filter": "datum.p == 3"}], "mark": {"type": "text", "align": "left", "fontSize": 11, "color": "#222222"},
   "encoding": {"x": {"datum": 0.68, "type": "quantitative", "axis": null}, "y": {"datum": -2.5, "type": "quantitative", "axis": null}, "text": {"field": "leg"}}}
 ]},
{"title": "Asymmetries convection(SV lt5,CAT1-2)", "width": 291, "height": 287, "resolve": {"axis": {"x": "independent", "y": "independent"}},
 "layer": [
  {"data": {"name": "circ"}, "mark": {"type": "point", "filled": false, "color": "#8c8c8c", "strokeWidth": 1, "opacity": 1},
   "encoding": {"x": {"datum": 0, "type": "quantitative", "scale": {"domain": [-3, 3], "nice": false, "zero": false}, "axis": {"title": null}},
    "y": {"datum": 0, "type": "quantitative", "scale": {"domain": [-3, 3], "nice": false, "zero": false}, "axis": {"title": "Degree latitude"}},
    "size": {"field": "r", "type": "quantitative", "scale": {"type": "pow", "exponent": 2, "domain": [0, 3], "range": [0, 83521]}, "legend": null}}},
  {"data": {"name": "zero"}, "mark": {"type": "rule", "color": "#b0b0b0", "strokeDash": [8, 5], "strokeWidth": 1}, "encoding": {"x": {"field": "v", "type": "quantitative", "axis": {"orient": "top", "labels": false, "title": null}}}},
  {"data": {"name": "zero"}, "mark": {"type": "rule", "color": "#b0b0b0", "strokeDash": [8, 5], "strokeWidth": 1}, "encoding": {"y": {"field": "v", "type": "quantitative", "axis": {"orient": "right", "labels": false, "title": null}}}},
  {"data": {"name": "s4"}, "mark": {"type": "point", "shape": "M-1,0L1,0M-0.7,-0.7L0.7,0.7M-0.7,0.7L0.7,-0.7", "size": 34, "filled": false, "color": "#44aa44", "strokeWidth": 1, "opacity": 1},
   "encoding": {"x": {"field": "x", "type": "quantitative", "axis": null}, "y": {"field": "y", "type": "quantitative", "axis": null}}},
  {"data": {"name": "info"}, "transform": [{"filter": "datum.p == 4"}], "mark": {"type": "point", "shape": "triangle-down", "size": 150, "filled": false, "color": "#9933ff", "strokeWidth": 1.5, "opacity": 1},
   "encoding": {"x": {"field": "mx", "type": "quantitative", "axis": null}, "y": {"field": "my", "type": "quantitative", "axis": null}}},
  {"data": {"name": "pct"}, "transform": [{"filter": "datum.p == 4"}], "mark": {"type": "text", "fontSize": 11, "color": "#222222"},
   "encoding": {"x": {"field": "x", "type": "quantitative", "axis": null}, "y": {"field": "y", "type": "quantitative", "axis": null}, "text": {"field": "t"}}},
  {"data": {"name": "info"}, "transform": [{"filter": "datum.p == 4"}], "mark": {"type": "point", "shape": "M-1,0L1,0M-0.7,-0.7L0.7,0.7M-0.7,0.7L0.7,-0.7", "size": 44, "filled": false, "color": "#228822", "strokeWidth": 1.3, "opacity": 1},
   "encoding": {"x": {"datum": 0.5, "type": "quantitative", "axis": null}, "y": {"datum": -2.5, "type": "quantitative", "axis": null}}},
  {"data": {"name": "info"}, "transform": [{"filter": "datum.p == 4"}], "mark": {"type": "text", "align": "left", "fontSize": 11, "color": "#222222"},
   "encoding": {"x": {"datum": 0.68, "type": "quantitative", "axis": null}, "y": {"datum": -2.5, "type": "quantitative", "axis": null}, "text": {"field": "leg"}}}
 ]},
{"title": "Asymmetries convection(SV 5-7.5,CAT1-2)", "width": 291, "height": 287, "resolve": {"axis": {"x": "independent", "y": "independent"}},
 "layer": [
  {"data": {"name": "circ"}, "mark": {"type": "point", "filled": false, "color": "#8c8c8c", "strokeWidth": 1, "opacity": 1},
   "encoding": {"x": {"datum": 0, "type": "quantitative", "scale": {"domain": [-3, 3], "nice": false, "zero": false}, "axis": {"title": null}},
    "y": {"datum": 0, "type": "quantitative", "scale": {"domain": [-3, 3], "nice": false, "zero": false}, "axis": {"title": "Degree latitude"}},
    "size": {"field": "r", "type": "quantitative", "scale": {"type": "pow", "exponent": 2, "domain": [0, 3], "range": [0, 83521]}, "legend": null}}},
  {"data": {"name": "zero"}, "mark": {"type": "rule", "color": "#b0b0b0", "strokeDash": [8, 5], "strokeWidth": 1}, "encoding": {"x": {"field": "v", "type": "quantitative", "axis": {"orient": "top", "labels": false, "title": null}}}},
  {"data": {"name": "zero"}, "mark": {"type": "rule", "color": "#b0b0b0", "strokeDash": [8, 5], "strokeWidth": 1}, "encoding": {"y": {"field": "v", "type": "quantitative", "axis": {"orient": "right", "labels": false, "title": null}}}},
  {"data": {"name": "s5"}, "mark": {"type": "point", "shape": "M-1,0L1,0M-0.7,-0.7L0.7,0.7M-0.7,0.7L0.7,-0.7", "size": 34, "filled": false, "color": "#44aa44", "strokeWidth": 1, "opacity": 1},
   "encoding": {"x": {"field": "x", "type": "quantitative", "axis": null}, "y": {"field": "y", "type": "quantitative", "axis": null}}},
  {"data": {"name": "info"}, "transform": [{"filter": "datum.p == 5"}], "mark": {"type": "point", "shape": "circle", "size": 150, "filled": false, "color": "#9933ff", "strokeWidth": 1.5, "opacity": 1},
   "encoding": {"x": {"field": "mx", "type": "quantitative", "axis": null}, "y": {"field": "my", "type": "quantitative", "axis": null}}},
  {"data": {"name": "pct"}, "transform": [{"filter": "datum.p == 5"}], "mark": {"type": "text", "fontSize": 11, "color": "#222222"},
   "encoding": {"x": {"field": "x", "type": "quantitative", "axis": null}, "y": {"field": "y", "type": "quantitative", "axis": null}, "text": {"field": "t"}}},
  {"data": {"name": "info"}, "transform": [{"filter": "datum.p == 5"}], "mark": {"type": "point", "shape": "M-1,0L1,0M-0.7,-0.7L0.7,0.7M-0.7,0.7L0.7,-0.7", "size": 44, "filled": false, "color": "#228822", "strokeWidth": 1.3, "opacity": 1},
   "encoding": {"x": {"datum": 0.5, "type": "quantitative", "axis": null}, "y": {"datum": -2.5, "type": "quantitative", "axis": null}}},
  {"data": {"name": "info"}, "transform": [{"filter": "datum.p == 5"}], "mark": {"type": "text", "align": "left", "fontSize": 11, "color": "#222222"},
   "encoding": {"x": {"datum": 0.68, "type": "quantitative", "axis": null}, "y": {"datum": -2.5, "type": "quantitative", "axis": null}, "text": {"field": "leg"}}}
 ]},
{"title": "Asymmetries convection(SV gt7.5,CAT1-2)", "width": 291, "height": 287, "resolve": {"axis": {"x": "independent", "y": "independent"}},
 "layer": [
  {"data": {"name": "circ"}, "mark": {"type": "point", "filled": false, "color": "#8c8c8c", "strokeWidth": 1, "opacity": 1},
   "encoding": {"x": {"datum": 0, "type": "quantitative", "scale": {"domain": [-3, 3], "nice": false, "zero": false}, "axis": {"title": null}},
    "y": {"datum": 0, "type": "quantitative", "scale": {"domain": [-3, 3], "nice": false, "zero": false}, "axis": {"title": "Degree latitude"}},
    "size": {"field": "r", "type": "quantitative", "scale": {"type": "pow", "exponent": 2, "domain": [0, 3], "range": [0, 83521]}, "legend": null}}},
  {"data": {"name": "zero"}, "mark": {"type": "rule", "color": "#b0b0b0", "strokeDash": [8, 5], "strokeWidth": 1}, "encoding": {"x": {"field": "v", "type": "quantitative", "axis": {"orient": "top", "labels": false, "title": null}}}},
  {"data": {"name": "zero"}, "mark": {"type": "rule", "color": "#b0b0b0", "strokeDash": [8, 5], "strokeWidth": 1}, "encoding": {"y": {"field": "v", "type": "quantitative", "axis": {"orient": "right", "labels": false, "title": null}}}},
  {"data": {"name": "s6"}, "mark": {"type": "point", "shape": "M-1,0L1,0M-0.7,-0.7L0.7,0.7M-0.7,0.7L0.7,-0.7", "size": 34, "filled": false, "color": "#44aa44", "strokeWidth": 1, "opacity": 1},
   "encoding": {"x": {"field": "x", "type": "quantitative", "axis": null}, "y": {"field": "y", "type": "quantitative", "axis": null}}},
  {"data": {"name": "info"}, "transform": [{"filter": "datum.p == 6"}], "mark": {"type": "point", "shape": "triangle-up", "size": 150, "filled": false, "color": "#9933ff", "strokeWidth": 1.5, "opacity": 1},
   "encoding": {"x": {"field": "mx", "type": "quantitative", "axis": null}, "y": {"field": "my", "type": "quantitative", "axis": null}}},
  {"data": {"name": "pct"}, "transform": [{"filter": "datum.p == 6"}], "mark": {"type": "text", "fontSize": 11, "color": "#222222"},
   "encoding": {"x": {"field": "x", "type": "quantitative", "axis": null}, "y": {"field": "y", "type": "quantitative", "axis": null}, "text": {"field": "t"}}},
  {"data": {"name": "info"}, "transform": [{"filter": "datum.p == 6"}], "mark": {"type": "point", "shape": "M-1,0L1,0M-0.7,-0.7L0.7,0.7M-0.7,0.7L0.7,-0.7", "size": 44, "filled": false, "color": "#228822", "strokeWidth": 1.3, "opacity": 1},
   "encoding": {"x": {"datum": 0.5, "type": "quantitative", "axis": null}, "y": {"datum": -2.5, "type": "quantitative", "axis": null}}},
  {"data": {"name": "info"}, "transform": [{"filter": "datum.p == 6"}], "mark": {"type": "text", "align": "left", "fontSize": 11, "color": "#222222"},
   "encoding": {"x": {"datum": 0.68, "type": "quantitative", "axis": null}, "y": {"datum": -2.5, "type": "quantitative", "axis": null}, "text": {"field": "leg"}}}
 ]},
{"title": "Asymmetries convection(SV lt5,CAT3-5)", "width": 291, "height": 287, "resolve": {"axis": {"x": "independent", "y": "independent"}},
 "layer": [
  {"data": {"name": "circ"}, "mark": {"type": "point", "filled": false, "color": "#8c8c8c", "strokeWidth": 1, "opacity": 1},
   "encoding": {"x": {"datum": 0, "type": "quantitative", "scale": {"domain": [-3, 3], "nice": false, "zero": false}, "axis": {"title": "Degree longitude"}},
    "y": {"datum": 0, "type": "quantitative", "scale": {"domain": [-3, 3], "nice": false, "zero": false}, "axis": {"title": "Degree latitude"}},
    "size": {"field": "r", "type": "quantitative", "scale": {"type": "pow", "exponent": 2, "domain": [0, 3], "range": [0, 83521]}, "legend": null}}},
  {"data": {"name": "zero"}, "mark": {"type": "rule", "color": "#b0b0b0", "strokeDash": [8, 5], "strokeWidth": 1}, "encoding": {"x": {"field": "v", "type": "quantitative", "axis": {"orient": "top", "labels": false, "title": null}}}},
  {"data": {"name": "zero"}, "mark": {"type": "rule", "color": "#b0b0b0", "strokeDash": [8, 5], "strokeWidth": 1}, "encoding": {"y": {"field": "v", "type": "quantitative", "axis": {"orient": "right", "labels": false, "title": null}}}},
  {"data": {"name": "s7"}, "mark": {"type": "point", "shape": "M-1,0L1,0M-0.7,-0.7L0.7,0.7M-0.7,0.7L0.7,-0.7", "size": 34, "filled": false, "color": "#44aa44", "strokeWidth": 1, "opacity": 1},
   "encoding": {"x": {"field": "x", "type": "quantitative", "axis": null}, "y": {"field": "y", "type": "quantitative", "axis": null}}},
  {"data": {"name": "info"}, "transform": [{"filter": "datum.p == 7"}], "mark": {"type": "point", "shape": "triangle-down", "size": 150, "filled": false, "color": "#ff3333", "strokeWidth": 1.5, "opacity": 1},
   "encoding": {"x": {"field": "mx", "type": "quantitative", "axis": null}, "y": {"field": "my", "type": "quantitative", "axis": null}}},
  {"data": {"name": "pct"}, "transform": [{"filter": "datum.p == 7"}], "mark": {"type": "text", "fontSize": 11, "color": "#222222"},
   "encoding": {"x": {"field": "x", "type": "quantitative", "axis": null}, "y": {"field": "y", "type": "quantitative", "axis": null}, "text": {"field": "t"}}},
  {"data": {"name": "info"}, "transform": [{"filter": "datum.p == 7"}], "mark": {"type": "point", "shape": "M-1,0L1,0M-0.7,-0.7L0.7,0.7M-0.7,0.7L0.7,-0.7", "size": 44, "filled": false, "color": "#228822", "strokeWidth": 1.3, "opacity": 1},
   "encoding": {"x": {"datum": 0.5, "type": "quantitative", "axis": null}, "y": {"datum": -2.5, "type": "quantitative", "axis": null}}},
  {"data": {"name": "info"}, "transform": [{"filter": "datum.p == 7"}], "mark": {"type": "text", "align": "left", "fontSize": 11, "color": "#222222"},
   "encoding": {"x": {"datum": 0.68, "type": "quantitative", "axis": null}, "y": {"datum": -2.5, "type": "quantitative", "axis": null}, "text": {"field": "leg"}}}
 ]},
{"title": "Asymmetries convection(SV 5-7.5,CAT3-5)", "width": 291, "height": 287, "resolve": {"axis": {"x": "independent", "y": "independent"}},
 "layer": [
  {"data": {"name": "circ"}, "mark": {"type": "point", "filled": false, "color": "#8c8c8c", "strokeWidth": 1, "opacity": 1},
   "encoding": {"x": {"datum": 0, "type": "quantitative", "scale": {"domain": [-3, 3], "nice": false, "zero": false}, "axis": {"title": "Degree longitude"}},
    "y": {"datum": 0, "type": "quantitative", "scale": {"domain": [-3, 3], "nice": false, "zero": false}, "axis": {"title": "Degree latitude"}},
    "size": {"field": "r", "type": "quantitative", "scale": {"type": "pow", "exponent": 2, "domain": [0, 3], "range": [0, 83521]}, "legend": null}}},
  {"data": {"name": "zero"}, "mark": {"type": "rule", "color": "#b0b0b0", "strokeDash": [8, 5], "strokeWidth": 1}, "encoding": {"x": {"field": "v", "type": "quantitative", "axis": {"orient": "top", "labels": false, "title": null}}}},
  {"data": {"name": "zero"}, "mark": {"type": "rule", "color": "#b0b0b0", "strokeDash": [8, 5], "strokeWidth": 1}, "encoding": {"y": {"field": "v", "type": "quantitative", "axis": {"orient": "right", "labels": false, "title": null}}}},
  {"data": {"name": "s8"}, "mark": {"type": "point", "shape": "M-1,0L1,0M-0.7,-0.7L0.7,0.7M-0.7,0.7L0.7,-0.7", "size": 34, "filled": false, "color": "#44aa44", "strokeWidth": 1, "opacity": 1},
   "encoding": {"x": {"field": "x", "type": "quantitative", "axis": null}, "y": {"field": "y", "type": "quantitative", "axis": null}}},
  {"data": {"name": "info"}, "transform": [{"filter": "datum.p == 8"}], "mark": {"type": "point", "shape": "circle", "size": 150, "filled": false, "color": "#ff3333", "strokeWidth": 1.5, "opacity": 1},
   "encoding": {"x": {"field": "mx", "type": "quantitative", "axis": null}, "y": {"field": "my", "type": "quantitative", "axis": null}}},
  {"data": {"name": "pct"}, "transform": [{"filter": "datum.p == 8"}], "mark": {"type": "text", "fontSize": 11, "color": "#222222"},
   "encoding": {"x": {"field": "x", "type": "quantitative", "axis": null}, "y": {"field": "y", "type": "quantitative", "axis": null}, "text": {"field": "t"}}},
  {"data": {"name": "info"}, "transform": [{"filter": "datum.p == 8"}], "mark": {"type": "point", "shape": "M-1,0L1,0M-0.7,-0.7L0.7,0.7M-0.7,0.7L0.7,-0.7", "size": 44, "filled": false, "color": "#228822", "strokeWidth": 1.3, "opacity": 1},
   "encoding": {"x": {"datum": 0.5, "type": "quantitative", "axis": null}, "y": {"datum": -2.5, "type": "quantitative", "axis": null}}},
  {"data": {"name": "info"}, "transform": [{"filter": "datum.p == 8"}], "mark": {"type": "text", "align": "left", "fontSize": 11, "color": "#222222"},
   "encoding": {"x": {"datum": 0.68, "type": "quantitative", "axis": null}, "y": {"datum": -2.5, "type": "quantitative", "axis": null}, "text": {"field": "leg"}}}
 ]},
{"title": "Asymmetries convection(SV gt7.5,CAT3-5)", "width": 291, "height": 287, "resolve": {"axis": {"x": "independent", "y": "independent"}},
 "layer": [
  {"data": {"name": "circ"}, "mark": {"type": "point", "filled": false, "color": "#8c8c8c", "strokeWidth": 1, "opacity": 1},
   "encoding": {"x": {"datum": 0, "type": "quantitative", "scale": {"domain": [-3, 3], "nice": false, "zero": false}, "axis": {"title": "Degree longitude"}},
    "y": {"datum": 0, "type": "quantitative", "scale": {"domain": [-3, 3], "nice": false, "zero": false}, "axis": {"title": "Degree latitude"}},
    "size": {"field": "r", "type": "quantitative", "scale": {"type": "pow", "exponent": 2, "domain": [0, 3], "range": [0, 83521]}, "legend": null}}},
  {"data": {"name": "zero"}, "mark": {"type": "rule", "color": "#b0b0b0", "strokeDash": [8, 5], "strokeWidth": 1}, "encoding": {"x": {"field": "v", "type": "quantitative", "axis": {"orient": "top", "labels": false, "title": null}}}},
  {"data": {"name": "zero"}, "mark": {"type": "rule", "color": "#b0b0b0", "strokeDash": [8, 5], "strokeWidth": 1}, "encoding": {"y": {"field": "v", "type": "quantitative", "axis": {"orient": "right", "labels": false, "title": null}}}},
  {"data": {"name": "s9"}, "mark": {"type": "point", "shape": "M-1,0L1,0M-0.7,-0.7L0.7,0.7M-0.7,0.7L0.7,-0.7", "size": 34, "filled": false, "color": "#44aa44", "strokeWidth": 1, "opacity": 1},
   "encoding": {"x": {"field": "x", "type": "quantitative", "axis": null}, "y": {"field": "y", "type": "quantitative", "axis": null}}},
  {"data": {"name": "info"}, "transform": [{"filter": "datum.p == 9"}], "mark": {"type": "point", "shape": "triangle-up", "size": 150, "filled": false, "color": "#ff3333", "strokeWidth": 1.5, "opacity": 1},
   "encoding": {"x": {"field": "mx", "type": "quantitative", "axis": null}, "y": {"field": "my", "type": "quantitative", "axis": null}}},
  {"data": {"name": "pct"}, "transform": [{"filter": "datum.p == 9"}], "mark": {"type": "text", "fontSize": 11, "color": "#222222"},
   "encoding": {"x": {"field": "x", "type": "quantitative", "axis": null}, "y": {"field": "y", "type": "quantitative", "axis": null}, "text": {"field": "t"}}},
  {"data": {"name": "info"}, "transform": [{"filter": "datum.p == 9"}], "mark": {"type": "point", "shape": "M-1,0L1,0M-0.7,-0.7L0.7,0.7M-0.7,0.7L0.7,-0.7", "size": 44, "filled": false, "color": "#228822", "strokeWidth": 1.3, "opacity": 1},
   "encoding": {"x": {"datum": 0.5, "type": "quantitative", "axis": null}, "y": {"datum": -2.5, "type": "quantitative", "axis": null}}},
  {"data": {"name": "info"}, "transform": [{"filter": "datum.p == 9"}], "mark": {"type": "text", "align": "left", "fontSize": 11, "color": "#222222"},
   "encoding": {"x": {"datum": 0.68, "type": "quantitative", "axis": null}, "y": {"datum": -2.5, "type": "quantitative", "axis": null}, "text": {"field": "leg"}}}
 ]}
],
"config": {
 "font": "Liberation Sans",
 "view": {"stroke": "black", "strokeWidth": 1},
 "axis": {"grid": false, "domain": false, "tickColor": "black", "tickSize": 7, "tickCount": 13, "format": ".1f", "labelExpr": "replace(datum.label, '\u2212', '-')", "labelFontSize": 12, "labelColor": "black", "labelFlush": false, "labelOverlap": false, "titleFontSize": 13, "titleFontWeight": "normal", "titleColor": "black", "titlePadding": 6},
 "axisX": {"labelPadding": 4},
 "axisY": {"labelPadding": 6},
 "title": {"fontSize": 20, "fontWeight": "normal", "color": "black", "offset": 8}
}
}
